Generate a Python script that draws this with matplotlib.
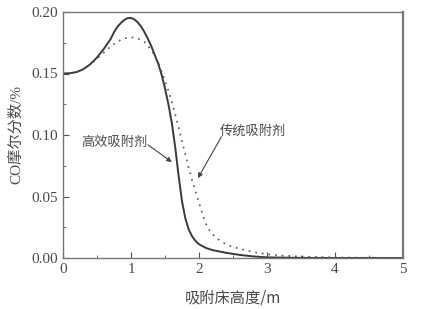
import matplotlib
matplotlib.use("Agg")
import matplotlib.pyplot as plt
from matplotlib.ticker import MultipleLocator, FormatStrFormatter

plt.rcParams['font.family'] = ['Liberation Serif', 'Noto Sans CJK SC', 'DejaVu Sans']

# Data
x_solid = [0, 0.1, 0.2, 0.3, 0.4, 0.5, 0.6, 0.65, 0.7, 0.75, 0.8, 0.85, 0.9, 0.95,
           1.0, 1.05, 1.1, 1.15, 1.2, 1.25, 1.3, 1.35, 1.4, 1.45, 1.5, 1.55, 1.6,
           1.65, 1.7, 1.75, 1.8, 1.85, 1.9, 1.95, 2.0, 2.1, 2.2, 2.4, 2.6, 2.8,
           3.0, 3.5, 4.0, 5.0]
y_solid = [0.150, 0.1502, 0.1512, 0.1535, 0.1575, 0.163, 0.170, 0.174, 0.178,
           0.1835, 0.188, 0.191, 0.1935, 0.195, 0.1952, 0.194, 0.1915, 0.188,
           0.1835, 0.178, 0.172, 0.165, 0.158, 0.149, 0.138, 0.125, 0.110, 0.090,
           0.067, 0.046, 0.032, 0.023, 0.0175, 0.0138, 0.0112, 0.0082, 0.0064,
           0.0042, 0.0025, 0.0013, 0.0005, 0.0001, 0.0, 0.0]

x_dot = [0, 0.1, 0.2, 0.3, 0.4, 0.5, 0.6, 0.7, 0.8, 0.9, 1.0, 1.1, 1.2, 1.3, 1.35,
         1.4, 1.45, 1.5, 1.55, 1.6, 1.65, 1.7, 1.75, 1.8, 1.85, 1.9, 1.95, 2.0,
         2.05, 2.1, 2.15, 2.2, 2.3, 2.4, 2.5, 2.6, 2.8, 3.0, 3.2, 3.5, 4.0, 4.5,
         5.0]
y_dot = [0.150, 0.1502, 0.1512, 0.1535, 0.1572, 0.162, 0.167, 0.172, 0.176,
         0.1785, 0.1795, 0.1785, 0.1755, 0.169, 0.1645, 0.159, 0.152, 0.144,
         0.136, 0.127, 0.117, 0.106, 0.095, 0.084, 0.073, 0.063, 0.054, 0.045,
         0.036, 0.028, 0.0230, 0.0192, 0.0145, 0.011, 0.009, 0.0075, 0.0048,
         0.003, 0.002, 0.0012, 0.0005, 0.0002, 0.0]

x_ticks = [0, 1, 2, 3, 4, 5]
y_ticks = [0.00, 0.05, 0.10, 0.15, 0.20]

label_solid = "高效吸附剂"
label_dot = "传统吸附剂"

fig = plt.figure(figsize=(4.22, 3.09), dpi=100)
ax = fig.add_axes([63/422, 1-258/309, 340/422, 246/309])

line_c = '#3a3a3a'
text_c = '#4a4a4a'
ax.plot(x_solid, y_solid, color=line_c, lw=1.4)
ax.plot(x_dot, y_dot, color='#555555', lw=1.2, linestyle=(0, (1, 3)))

ax.set_xlim(0, 5)
ax.set_ylim(0, 0.20)
ax.set_xticks(x_ticks)
ax.set_yticks(y_ticks)
ax.yaxis.set_major_formatter(FormatStrFormatter('%.2f'))
ax.xaxis.set_minor_locator(MultipleLocator(0.5))
ax.yaxis.set_minor_locator(MultipleLocator(0.025))
ax.tick_params(which='both', direction='in', top=False, right=False,
               colors='#555555', labelcolor=text_c, labelsize=11)
ax.tick_params(which='major', length=4)
ax.tick_params(which='minor', length=2.5)
for s in ax.spines.values():
    s.set_color('#777777')
    s.set_linewidth(1.0)
ax.spines['right'].set_linewidth(1.6)

ax.set_xlabel("吸附床高度/m", color=text_c, fontsize=11,
              family=['Noto Sans CJK SC', 'DejaVu Sans'], labelpad=10)
ax.set_ylabel("CO摩尔分数/%", color=text_c, fontsize=11,
              family=['Liberation Serif', 'Noto Sans CJK SC'], labelpad=6)

ax.text(0.757, 0.094, label_solid, ha='center', va='center', fontsize=9.5,
        color=text_c, family=['Noto Sans CJK SC'])
ax.text(2.79, 0.1027, label_dot, ha='center', va='center', fontsize=9.5,
        color=text_c, family=['Noto Sans CJK SC'])
arrow_kw = dict(arrowstyle='-|>', color='#444444', lw=0.8, mutation_scale=7,
                shrinkA=0, shrinkB=0)
ax.annotate('', xy=(1.60, 0.078), xytext=(1.25, 0.092), arrowprops=arrow_kw)
ax.annotate('', xy=(1.985, 0.065), xytext=(2.33, 0.0986), arrowprops=arrow_kw)

fig.savefig("out.png", dpi=100)
